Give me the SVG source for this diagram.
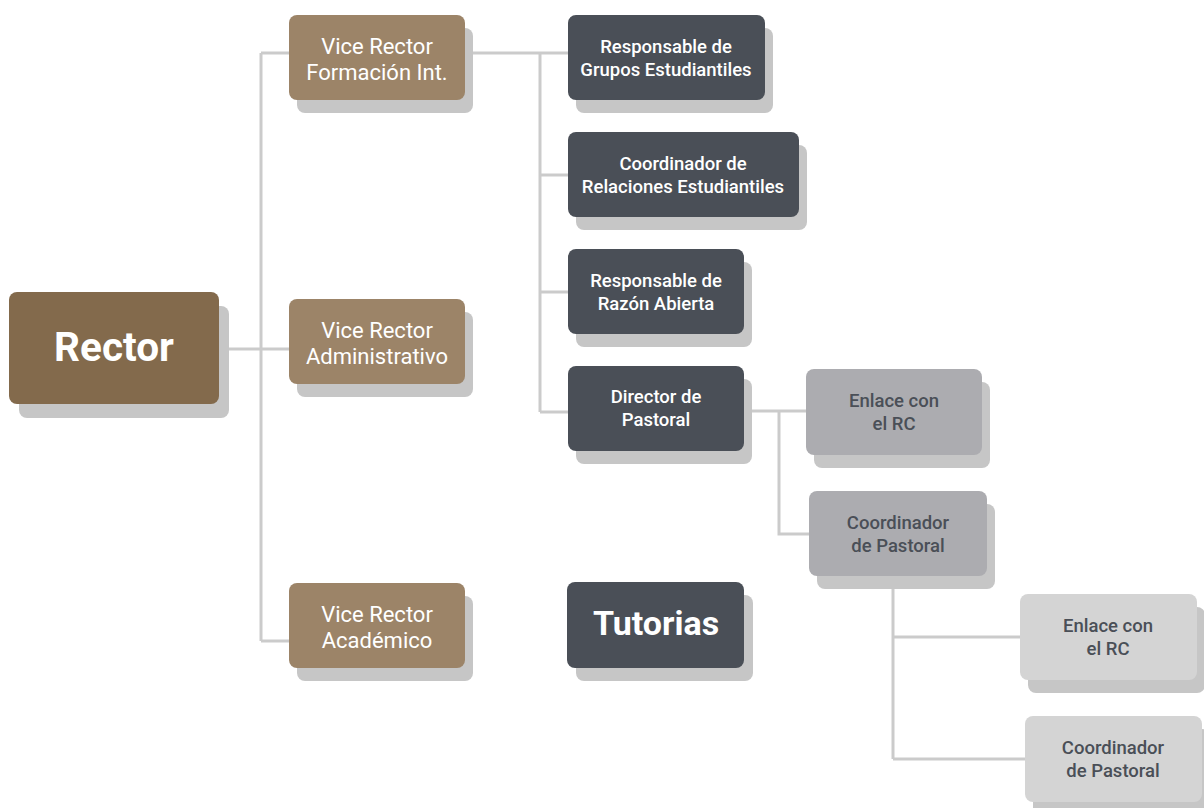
<svg xmlns="http://www.w3.org/2000/svg" width="1204" height="808" viewBox="0 0 1204 808">
<style>
.sh{fill:#c6c6c6}
.rector{fill:#836a4c}
.vr{fill:#9c8468}
.dk{fill:#4a4f57}
.md{fill:#acacb0}
.lt{fill:#d4d4d4}
.w{fill:#ffffff;font-family:Roboto,"Liberation Sans",sans-serif;text-anchor:middle}
.g{fill:#4a4f57;font-family:Roboto,"Liberation Sans",sans-serif;text-anchor:middle}
.s{font-size:18.5px;font-weight:500}
.v{font-size:22px}
.conn{stroke:#cbcbcb;stroke-width:3;fill:none}
</style>
<rect width="1204" height="808" fill="#ffffff"/>
<g id="connectors" class="conn">
<path d="M219 349H261M261 53V641M261 53H289M261 349H289M261 641H289"/>
<path d="M465 53H568M540 53V412M540 175H568M540 292H568M540 412H568"/>
<path d="M744 411H806M779 411V534H809"/>
<path d="M893 576V759M893 637H1020M893 759H1025"/>
</g>
<g id="rector">
<rect class="sh" x="19" y="306" width="210" height="112" rx="8"/>
<rect class="rector" x="9" y="292" width="210" height="112" rx="8"/>
<text class="w" x="114" y="361" font-size="40.5" font-weight="700">Rector</text>
</g>
<g id="vr-formacion">
<rect class="sh" x="297" y="28" width="176" height="85" rx="8"/>
<rect class="vr" x="289" y="15" width="176" height="85" rx="8"/>
<text class="w v" x="377" y="54">Vice Rector</text>
<text class="w v" x="377" y="80">Formación Int.</text>
</g>
<g id="vr-administrativo">
<rect class="sh" x="297" y="312" width="176" height="85" rx="8"/>
<rect class="vr" x="289" y="299" width="176" height="85" rx="8"/>
<text class="w v" x="377" y="338">Vice Rector</text>
<text class="w v" x="377" y="364">Administrativo</text>
</g>
<g id="vr-academico">
<rect class="sh" x="297" y="596" width="176" height="85" rx="8"/>
<rect class="vr" x="289" y="583" width="176" height="85" rx="8"/>
<text class="w v" x="377" y="622">Vice Rector</text>
<text class="w v" x="377" y="648">Académico</text>
</g>
<g id="resp-grupos">
<rect class="sh" x="576" y="28" width="197" height="85" rx="8"/>
<rect class="dk" x="568" y="15" width="197" height="85" rx="8"/>
<text class="w s" x="666" y="53">Responsable de</text>
<text class="w s" x="666" y="76">Grupos Estudiantiles</text>
</g>
<g id="coord-relaciones">
<rect class="sh" x="576" y="145" width="231" height="85" rx="8"/>
<rect class="dk" x="568" y="132" width="231" height="85" rx="8"/>
<text class="w s" x="683" y="170">Coordinador de</text>
<text class="w s" x="683" y="193">Relaciones Estudiantiles</text>
</g>
<g id="resp-razon">
<rect class="sh" x="576" y="262" width="176" height="85" rx="8"/>
<rect class="dk" x="568" y="249" width="176" height="85" rx="8"/>
<text class="w s" x="656" y="287">Responsable de</text>
<text class="w s" x="656" y="310">Razón Abierta</text>
</g>
<g id="director-pastoral">
<rect class="sh" x="576" y="379" width="176" height="85" rx="8"/>
<rect class="dk" x="568" y="366" width="176" height="85" rx="8"/>
<text class="w s" x="656" y="403">Director de</text>
<text class="w s" x="656" y="426">Pastoral</text>
</g>
<g id="tutorias">
<rect class="sh" x="576" y="595" width="177" height="86" rx="8"/>
<rect class="dk" x="567" y="582" width="177" height="86" rx="8"/>
<text class="w" x="656" y="635" font-size="34" font-weight="700">Tutorias</text>
</g>
<g id="enlace-1">
<rect class="sh" x="814" y="382" width="176" height="86" rx="8"/>
<rect class="md" x="806" y="369" width="176" height="86" rx="8"/>
<text class="g s" x="894" y="407">Enlace con</text>
<text class="g s" x="894" y="430">el RC</text>
</g>
<g id="coord-pastoral-1">
<rect class="sh" x="817" y="504" width="178" height="85" rx="8"/>
<rect class="md" x="809" y="491" width="178" height="85" rx="8"/>
<text class="g s" x="898" y="529">Coordinador</text>
<text class="g s" x="898" y="552">de Pastoral</text>
</g>
<g id="enlace-2">
<rect class="sh" x="1028" y="607" width="177" height="86" rx="8"/>
<rect class="lt" x="1020" y="594" width="177" height="86" rx="8"/>
<text class="g s" x="1108" y="632">Enlace con</text>
<text class="g s" x="1108" y="655">el RC</text>
</g>
<g id="coord-pastoral-2">
<rect class="sh" x="1033" y="729" width="177" height="86" rx="8"/>
<rect class="lt" x="1025" y="716" width="177" height="86" rx="8"/>
<text class="g s" x="1113" y="754">Coordinador</text>
<text class="g s" x="1113" y="777">de Pastoral</text>
</g>
</svg>
